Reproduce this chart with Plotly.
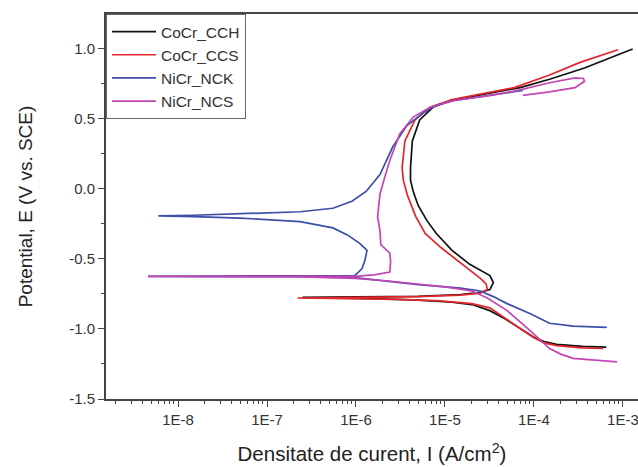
import plotly.graph_objects as go

# ---------------- data (current density A/cm^2, potential V vs SCE) ----------------
cch_I = [6.5e-4, 3.5e-4, 1.8e-4, 1.3e-4, 1e-4, 7.5e-5, 5.8e-5, 4.5e-5, 3.2e-5, 2.1e-5, 1.2e-5, 5e-6,
         1.5e-6, 5e-7, 2.5e-7, 1e-6, 5e-6, 1.5e-5, 2.5e-5, 3.2e-5, 3.5e-5, 3.2e-5, 2.5e-5, 1.9e-5,
         1.2e-5, 8e-6, 6.3e-6, 5e-6, 4.4e-6, 4.1e-6, 4.1e-6, 4.3e-6, 5.2e-6, 7.3e-6, 1.2e-5, 3.2e-5,
         7e-5, 1.5e-4, 3.7e-4, 7e-4, 1.29e-3]
cch_E = [-1.13, -1.125, -1.11, -1.09, -1.06, -1.01, -0.96, -0.92, -0.87, -0.83, -0.81, -0.795,
         -0.785, -0.78, -0.775, -0.772, -0.768, -0.755, -0.74, -0.72, -0.67, -0.62, -0.58, -0.54,
         -0.44, -0.32, -0.23, -0.12, -0.02, 0.06, 0.15, 0.34, 0.49, 0.58, 0.63, 0.68,
         0.72, 0.78, 0.86, 0.93, 0.995]

ccs_I = [6e-4, 3.5e-4, 1.8e-4, 1.3e-4, 9.8e-5, 7.5e-5, 5.8e-5, 4.3e-5, 3.2e-5, 2e-5, 8.8e-6, 3e-6,
         1e-6, 2.2e-7, 1e-6, 5e-6, 1.5e-5, 2.5e-5, 3e-5, 2.9e-5, 2.5e-5, 1.9e-5, 1.3e-5, 9e-6, 6e-6,
         4.7e-6, 3.8e-6, 3.4e-6, 3.3e-6, 3.55e-6, 4.6e-6, 6.8e-6, 1.2e-5, 3.3e-5, 6e-5, 1.5e-4,
         3.3e-4, 8.8e-4]
ccs_E = [-1.14, -1.135, -1.12, -1.10, -1.06, -1.01, -0.96, -0.90, -0.85, -0.82, -0.80, -0.79,
         -0.785, -0.78, -0.775, -0.77, -0.76, -0.745, -0.72, -0.68, -0.64, -0.58, -0.50, -0.42, -0.32,
         -0.20, -0.05, 0.06, 0.15, 0.34, 0.49, 0.58, 0.635, 0.685, 0.72, 0.81,
         0.90, 0.99]

nck_I = [6.6e-4, 4e-4, 2.75e-4, 1.5e-4, 9e-5, 5e-5, 3.5e-5, 2.5e-5, 1.5e-5, 5e-6, 2.5e-6, 1.3e-6,
         9.7e-7, 2e-7, 4.6e-9, 2e-7, 9.7e-7, 1.17e-6, 1.26e-6, 1.33e-6, 1.1e-6, 8e-7, 5.5e-7, 2.35e-7,
         5e-8, 1.5e-8, 6e-9, 1.5e-8, 5e-8, 2.35e-7, 5.5e-7, 9e-7, 1.3e-6, 1.86e-6, 2.6e-6, 3.74e-6,
         5.7e-6, 7.7e-6, 1.3e-5, 3.3e-5, 7.5e-5]
nck_E = [-0.99, -0.985, -0.98, -0.96, -0.89, -0.82, -0.77, -0.73, -0.71, -0.685, -0.665, -0.645,
         -0.635, -0.628, -0.625, -0.622, -0.62, -0.57, -0.51, -0.44, -0.39, -0.33, -0.28, -0.235,
         -0.21, -0.20, -0.195, -0.19, -0.18, -0.165, -0.14, -0.09, -0.02, 0.10, 0.30, 0.45,
         0.54, 0.59, 0.63, 0.67, 0.70]

ncs_I = [8.6e-4, 5e-4, 2.75e-4, 2e-4, 1.5e-4, 9e-5, 6.5e-5, 5e-5, 3e-5, 2e-5, 1e-5, 5e-6, 2e-6,
         9.7e-7, 2e-7, 4.6e-9, 2e-7, 9.7e-7, 1.6e-6, 2.4e-6, 2.45e-6, 2.4e-6, 1.9e-6, 1.86e-6,
         1.75e-6, 1.86e-6, 2.1e-6, 2.4e-6, 3.1e-6, 4.4e-6, 6.8e-6, 1.2e-5, 3.3e-5, 6.6e-5, 1.5e-4,
         2.9e-4, 3.6e-4, 3.7e-4, 2.9e-4, 1.5e-4, 7.5e-5]
ncs_E = [-1.235, -1.225, -1.21, -1.18, -1.14, -1.01, -0.93, -0.87, -0.78, -0.73, -0.70, -0.68, -0.655,
         -0.64, -0.628, -0.625, -0.622, -0.625, -0.615, -0.595, -0.52, -0.46, -0.40, -0.30,
         -0.20, -0.04, 0.08, 0.20, 0.39, 0.51, 0.58, 0.625, 0.665, 0.70, 0.755,
         0.79, 0.785, 0.765, 0.72, 0.69, 0.665]

names = ["CoCr_CCH", "CoCr_CCS", "NiCr_NCK", "NiCr_NCS"]
colors = ["#111111", "#e3262c", "#3c4fa6", "#c445b4"]
series = [(cch_I, cch_E), (ccs_I, ccs_E), (nck_I, nck_E), (ncs_I, ncs_E)]

x_tick_vals = [1e-8, 1e-7, 1e-6, 1e-5, 1e-4, 1e-3]
x_tick_text = ["1E-8", "1E-7", "1E-6", "1E-5", "1E-4", "1E-3"]
y_tick_vals = [-1.5, -1.0, -0.5, 0.0, 0.5, 1.0]
y_tick_text = ["-1.5", "-1.0", "-0.5", "0.0", "0.5", "1.0"]
minor_vals = [m * 10.0 ** d for d in range(-9, -2) for m in range(2, 10)]

fig = go.Figure()
for (xi, ye), nm, col in zip(series, names, colors):
    fig.add_trace(go.Scatter(x=xi, y=ye, mode="lines", name=nm,
                             line=dict(color=col, width=1.7)))

font_family = "Liberation Sans, Arial, sans-serif"
fig.update_layout(
    width=638, height=467,
    margin=dict(l=106, r=0, t=14, b=68),
    paper_bgcolor="white", plot_bgcolor="white",
    font=dict(family=font_family, color="#333333", size=15),
    showlegend=True,
    legend=dict(x=0, y=1, xanchor="left", yanchor="top",
                bgcolor="white", bordercolor="#666666", borderwidth=1,
                itemwidth=44,
                font=dict(size=15.5, color="#333333"), tracegroupgap=0),
    xaxis=dict(type="log", range=[-8.81, -2.83], automargin=False,
               ticklabeloverflow="allow",
               tickvals=x_tick_vals, ticktext=x_tick_text,
               ticks="outside", ticklen=6, tickwidth=1.2, tickcolor="#444444",
               minor=dict(tickvals=minor_vals, ticks="outside", ticklen=3,
                          tickwidth=1, tickcolor="#444444", showgrid=False),
               showline=True, linecolor="#444444", linewidth=1.8, mirror=True,
               showgrid=False, zeroline=False,
               tickfont=dict(size=15, color="#333333"),
               title=dict(text="Densitate de curent, I (A/cm<sup>2</sup>)",
                          font=dict(size=20.5, color="#222222"), standoff=20)),
    yaxis=dict(range=[-1.5, 1.245], automargin=False,
               ticklabeloverflow="allow",
               tickvals=y_tick_vals, ticktext=y_tick_text,
               ticks="outside", ticklen=6, tickwidth=1.2, tickcolor="#444444",
               minor=dict(dtick=0.25, ticks="outside", ticklen=3, tickwidth=1,
                          tickcolor="#444444", showgrid=False),
               showline=True, linecolor="#444444", linewidth=1.8, mirror=False,
               showgrid=False, zeroline=False,
               tickfont=dict(size=15, color="#333333"),
               title=dict(text="Potential, E (V vs. SCE)",
                          font=dict(size=19, color="#222222"), standoff=32)),
)

fig.write_html("out.html",
               config={"displayModeBar": False},
               post_script="document.body.style.margin='0';"
                           "document.body.style.overflow='hidden';")
